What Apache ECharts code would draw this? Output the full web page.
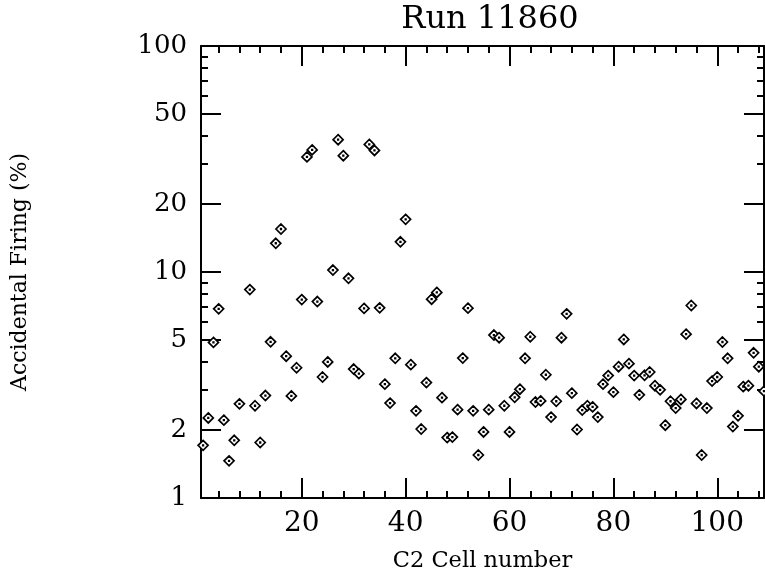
<!DOCTYPE html>
<html>
<head>
<meta charset="utf-8">
<script src="https://cdn.jsdelivr.net/npm/echarts@6/dist/echarts.min.js"></script>
<style>html,body{margin:0;padding:0;background:#fff;}#c{width:765px;height:578px;}</style>
</head>
<body>
<div id="c"></div>
<script>
const cells = [1,2,3,4,5,6,7,8,10,11,12,13,14,15,16,17,18,19,20,
  21,22,23,24,25,26,27,28,29,30,31,32,33,34,35,36,37,38,39,40,
  41,42,43,44,45,46,47,48,49,50,51,52,53,54,55,56,57,58,59,60,
  61,62,63,64,65,66,67,68,69,70,71,72,73,74,75,76,77,78,79,80,
  81,82,83,84,85,86,87,88,89,90,91,92,93,94,95,96,97,98,99,100,
  101,102,103,104,105,106,107,108,109];
const firing = [1.71,2.26,4.88,6.87,2.21,1.46,1.80,2.61,8.36,2.56,1.76,2.84,4.91,13.4,15.5,4.24,2.83,3.77,7.55,
  32.3,34.7,7.40,3.43,4.00,10.2,38.5,32.7,9.38,3.72,3.55,6.90,36.7,34.5,6.94,3.19,2.63,4.15,13.6,17.1,
  3.89,2.43,2.02,3.24,7.58,8.12,2.78,1.85,1.86,2.46,4.16,6.92,2.43,1.55,1.96,2.46,5.26,5.12,2.56,1.96,
  2.79,3.03,4.15,5.17,2.66,2.69,3.51,2.28,2.68,5.12,6.53,2.91,2.01,2.45,2.56,2.53,2.28,3.19,3.48,2.94,
  3.81,5.03,3.93,3.48,2.86,3.49,3.61,3.14,3.01,2.10,2.68,2.50,2.73,5.31,7.11,2.62,1.55,2.50,3.29,3.43,
  4.90,4.15,2.07,2.31,3.11,3.14,4.39,3.81,2.97];
const xMajor = [20,40,60,80,100];
const xMinor = [4,8,12,16,24,28,32,36,44,48,52,56,64,68,72,76,84,88,92,96,104,108];
const yMajor = [1,2,5,10,20,50,100];
const yMinor = [3,4,6,7,8,9,30,40,60,70,80,90];
const titleText = 'Run 11860';
const xName = 'C2 Cell number';
const yName = 'Accidental Firing (%)';

const FONT = 'DejaVu Serif';
const XMIN = 0.6, XMAX = 109.0;
const line = {color:'#000', width:2};

function xAx(pos, ticks, len, labels, axisLineShow) {
  return {
    type:'value', min:XMIN, max:XMAX, position:pos, gridIndex:0,
    axisLine:{show:axisLineShow, onZero:false, lineStyle:line},
    axisTick:{show:true, inside:true, length:len, customValues:ticks, lineStyle:line},
    axisLabel:{show:!!labels, customValues:labels||undefined, fontFamily:FONT, fontSize:28, color:'#000', margin:12},
    splitLine:{show:false}
  };
}
function yAx(pos, ticks, len, labels, axisLineShow) {
  return {
    type:'log', logBase:10, min:1, max:100, position:pos, gridIndex:0,
    axisLine:{show:axisLineShow, onZero:false, lineStyle:line},
    axisTick:{show:true, inside:true, length:len, customValues:ticks, lineStyle:line},
    axisLabel:{show:!!labels, customValues:labels||undefined, fontFamily:FONT, fontSize:26, color:'#000', margin:14},
    splitLine:{show:false}, minorTick:{show:false}
  };
}

const xAxes = [
  xAx('bottom', xMajor, 20, xMajor, true),
  xAx('bottom', xMinor, 7, null, false),
  xAx('top', xMajor, 20, null, true),
  xAx('top', xMinor, 7, null, false)
];
Object.assign(xAxes[0], {name:xName, nameLocation:'middle', nameGap:52,
  nameTextStyle:{fontFamily:FONT, fontSize:22.5, color:'#000'}});
const yAxes = [
  yAx('left', yMajor, 20, yMajor, true),
  yAx('left', yMinor, 7, null, false),
  yAx('right', yMajor, 20, null, true),
  yAx('right', yMinor, 7, null, false)
];
Object.assign(yAxes[0], {name:yName, nameLocation:'middle', nameGap:170,
  nameTextStyle:{fontFamily:FONT, fontSize:22, color:'#000'}});

const chart = echarts.init(document.getElementById('c'), null, {renderer:'canvas'});
chart.setOption({
  animation:false,
  backgroundColor:'#fff',
  title:{text:titleText, left:485, top:-1, textAlign:'center',
    textStyle:{fontFamily:FONT, fontSize:32, fontWeight:'normal', color:'#000'}},
  grid:{left:201, right:1, top:46, bottom:79, containLabel:false},
  xAxis:xAxes,
  yAxis:yAxes,
  series:[{
    type:'scatter', xAxisIndex:0, yAxisIndex:0,
    data:cells.map((c,i)=>[c, firing[i]]),
    symbol:'path://M5,0L10,5L5,10L0,5Z M4.7,4.7L5.3,4.7L5.3,5.3L4.7,5.3Z',
    symbolSize:10,
    itemStyle:{color:'#fff', borderColor:'#000', borderWidth:1.7, opacity:1}
  }]
});
</script>
</body>
</html>
